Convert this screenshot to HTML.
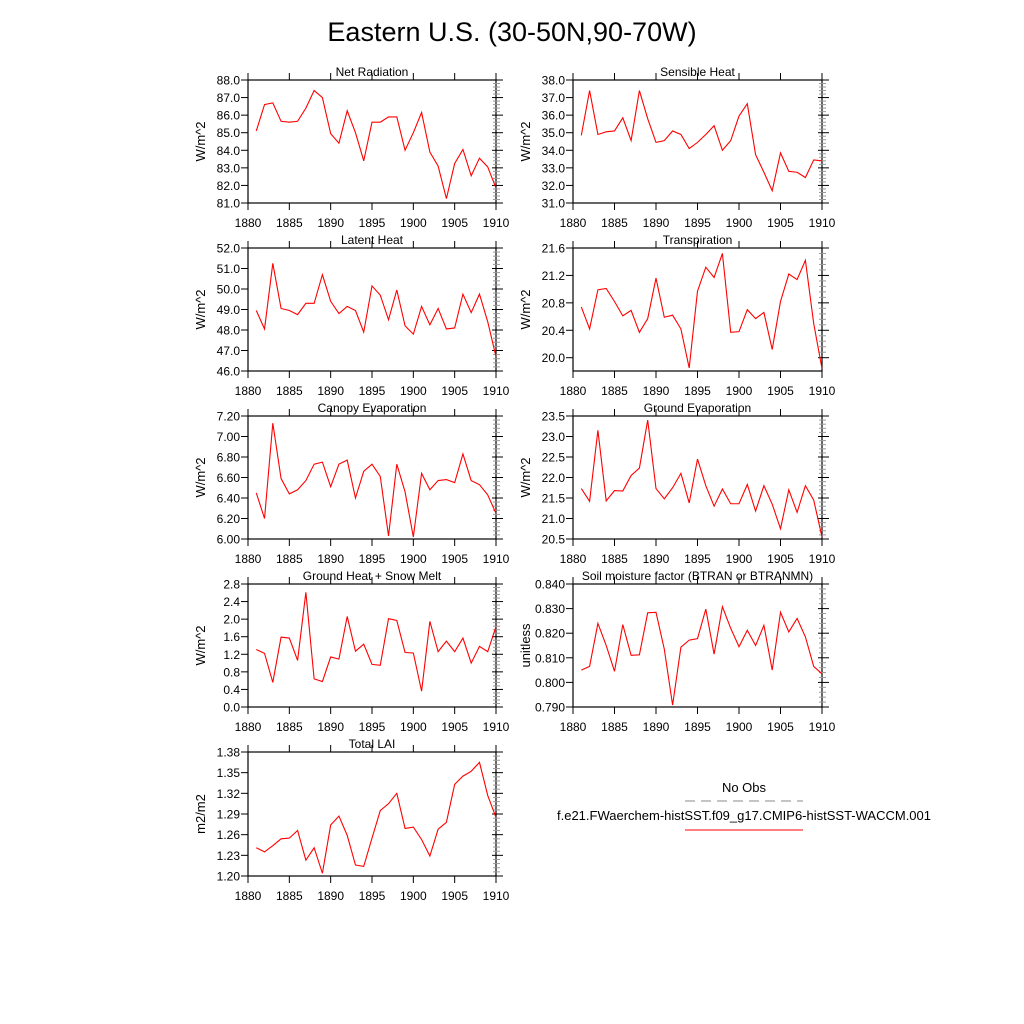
<!DOCTYPE html>
<html><head><meta charset="utf-8"><style>
html,body{margin:0;padding:0;background:#fff;}
svg{display:block;font-family:"Liberation Sans",sans-serif;}
</style></head><body>
<svg id="fig" width="1024" height="1024" viewBox="0 0 1024 1024" xmlns="http://www.w3.org/2000/svg">
<text x="512" y="41" font-size="27" text-anchor="middle">Eastern U.S. (30-50N,90-70W)</text>
<g>
<text x="744" y="792" font-size="13" text-anchor="middle">No Obs</text>
<line x1="685" y1="801" x2="803" y2="801" stroke="#888" stroke-dasharray="10,6"/>
<text x="744" y="820" font-size="13" text-anchor="middle">f.e21.FWaerchem-histSST.f09_g17.CMIP6-histSST-WACCM.001</text>
<line x1="685" y1="830" x2="803" y2="830" stroke="#f00" stroke-width="1"/>
</g>
</svg>
<script>
const years = [1881,1882,1883,1884,1885,1886,1887,1888,1889,1890,1891,1892,1893,1894,1895,1896,1897,1898,1899,1900,1901,1902,1903,1904,1905,1906,1907,1908,1909,1910];
const xTicks = [1880,1885,1890,1895,1900,1905,1910];
const netRad = [85.1,86.6,86.7,85.65,85.6,85.65,86.4,87.4,87.0,84.95,84.4,86.25,85.0,83.4,85.6,85.6,85.9,85.9,84.0,85.0,86.15,83.9,83.1,81.25,83.25,84.05,82.55,83.55,83.05,81.85];
const sensible = [34.85,37.4,34.9,35.05,35.1,35.85,34.55,37.4,35.8,34.45,34.55,35.1,34.9,34.1,34.45,34.9,35.4,34.0,34.55,35.95,36.65,33.75,32.75,31.7,33.85,32.8,32.75,32.45,33.45,33.4];
const latent = [48.95,48.05,51.25,49.05,48.95,48.75,49.3,49.3,50.7,49.4,48.8,49.15,48.95,47.9,50.15,49.7,48.5,49.95,48.2,47.8,49.15,48.25,49.05,48.05,48.1,49.75,48.85,49.75,48.4,46.7];
const transp = [20.74,20.42,20.99,21.01,20.82,20.61,20.69,20.37,20.57,21.16,20.59,20.62,20.42,19.85,20.97,21.32,21.17,21.52,20.37,20.38,20.70,20.57,20.66,20.12,20.82,21.22,21.14,21.42,20.5,19.84];
const canopy = [6.45,6.20,7.13,6.59,6.44,6.48,6.57,6.73,6.75,6.51,6.73,6.77,6.40,6.66,6.73,6.61,6.03,6.73,6.46,6.02,6.64,6.48,6.57,6.58,6.55,6.83,6.57,6.53,6.43,6.25];
const groundEvap = [21.73,21.42,23.15,21.43,21.68,21.67,22.05,22.23,23.4,21.73,21.48,21.75,22.1,21.38,22.45,21.8,21.3,21.72,21.36,21.36,21.83,21.18,21.8,21.35,20.75,21.7,21.15,21.8,21.45,20.55];
const groundHeat = [1.31,1.22,0.56,1.59,1.57,1.06,2.61,0.64,0.58,1.14,1.09,2.06,1.27,1.43,0.97,0.95,2.01,1.97,1.24,1.23,0.36,1.95,1.26,1.50,1.26,1.57,1.00,1.38,1.26,1.83];
const soil = [0.805,0.8065,0.824,0.815,0.8045,0.8235,0.811,0.8112,0.8283,0.8285,0.8135,0.7908,0.8143,0.8172,0.8178,0.8298,0.8115,0.8308,0.822,0.8145,0.8212,0.815,0.8232,0.805,0.8285,0.8205,0.826,0.8185,0.8065,0.8035];
const lai = [1.241,1.235,1.244,1.254,1.255,1.266,1.223,1.241,1.204,1.274,1.287,1.259,1.216,1.214,1.255,1.295,1.305,1.320,1.269,1.271,1.253,1.229,1.268,1.278,1.333,1.345,1.352,1.365,1.317,1.285];
const ticksNet = [81,82,83,84,85,86,87,88];
const ticksSens = [31,32,33,34,35,36,37,38];
const ticksLat = [46,47,48,49,50,51,52];
const ticksTr = [20.0,20.4,20.8,21.2,21.6];
const ticksCan = [6.0,6.2,6.4,6.6,6.8,7.0,7.2];
const ticksGE = [20.5,21.0,21.5,22.0,22.5,23.0,23.5];
const ticksGH = [0,0.4,0.8,1.2,1.6,2.0,2.4,2.8];
const ticksSoil = [0.79,0.80,0.81,0.82,0.83,0.84];
const ticksLai = [1.20,1.23,1.26,1.29,1.32,1.35,1.38];

const NS = "http://www.w3.org/2000/svg";
const svg = document.getElementById('fig');
function mk(tag, attrs, parent){const e=document.createElementNS(NS,tag);for(const k in attrs)e.setAttribute(k,attrs[k]);parent.appendChild(e);return e;}

function panel(name, title, ylab, x0, x1, y0, y1, ymin, ymax, yt, dec, vals){
  const g = mk('g',{},svg);
  
  
  const xs = v => x0 + (v-1880)/30*(x1-x0);
  const ys = v => y1 - (v-ymin)/(ymax-ymin)*(y1-y0);
  // frame
  const fr = mk('rect',{x:x0,y:y0,width:x1-x0,height:y1-y0,fill:'none',stroke:'#000','stroke-width':1.2},g);
  
  
  // x ticks
  xTicks.forEach(t=>{
    const x = xs(t);
    mk('line',{x1:x,y1:y1,x2:x,y2:y1+7,stroke:'#000'},g);
    mk('line',{x1:x,y1:y0,x2:x,y2:y0-7,stroke:'#000'},g);
    const tx = mk('text',{x:x,y:y1+24,'font-size':12,'text-anchor':'middle'},g);
    tx.textContent = t;
    
    
  });
  // y ticks
  const step = yt[1]-yt[0];
  yt.forEach((t,i)=>{
    const y = ys(t);
    mk('line',{x1:x0-7,y1:y,x2:x0,y2:y,stroke:'#000'},g);
    mk('line',{x1:x1-4,y1:y,x2:x1+7,y2:y,stroke:'#000'},g);
    const tx = mk('text',{x:x0-8,y:y+4.5,'font-size':12,'text-anchor':'end'},g);
    tx.textContent = t.toFixed(dec);
    
    
    if(i<yt.length-1){
      for(let k=1;k<5;k++){
        const ym = ys(t+step*k/5);
        mk('line',{x1:x1-3,y1:ym,x2:x1+4,y2:ym,stroke:'#999'},g);
      }
    }
  });
  const tt = mk('text',{x:(x0+x1)/2,y:y0-4,'font-size':12,'text-anchor':'middle'},g);
  tt.textContent = title;
  
  
  const yl = mk('text',{x:0,y:0,'font-size':13,'text-anchor':'middle',transform:`translate(${x0-43},${(y0+y1)/2}) rotate(-90)`},g);
  yl.textContent = ylab;
  
  
  const pts = vals.map((v,i)=>xs(years[i]).toFixed(2)+','+ys(v).toFixed(2)).join(' ');
  const pl = mk('polyline',{points:pts,fill:'none',stroke:'#f00','stroke-width':1.1},g);
  
  
}
const L0=248,L1=496,R0=573,R1=822;
panel('net-radiation-panel','Net Radiation','W/m^2',L0,L1,80,203,81,88,ticksNet,1,netRad);
panel('sensible-heat-panel','Sensible Heat','W/m^2',R0,R1,80,203,31,38,ticksSens,1,sensible);
panel('latent-heat-panel','Latent Heat','W/m^2',L0,L1,248,371,46,52,ticksLat,1,latent);
panel('transpiration-panel','Transpiration','W/m^2',R0,R1,248,371,19.806,21.6,ticksTr,1,transp);
panel('canopy-evaporation-panel','Canopy Evaporation','W/m^2',L0,L1,416,539,6.0,7.2,ticksCan,2,canopy);
panel('ground-evaporation-panel','Ground Evaporation','W/m^2',R0,R1,416,539,20.5,23.5,ticksGE,1,groundEvap);
panel('ground-heat-panel','Ground Heat + Snow Melt','W/m^2',L0,L1,584,707,0,2.8,ticksGH,1,groundHeat);
panel('soil-moisture-panel','Soil moisture factor (BTRAN or BTRANMN)','unitless',R0,R1,584,707,0.79,0.84,ticksSoil,3,soil);
panel('total-lai-panel','Total LAI','m2/m2',L0,L1,752,876,1.20,1.38,ticksLai,2,lai);
</script>
</body></html>
